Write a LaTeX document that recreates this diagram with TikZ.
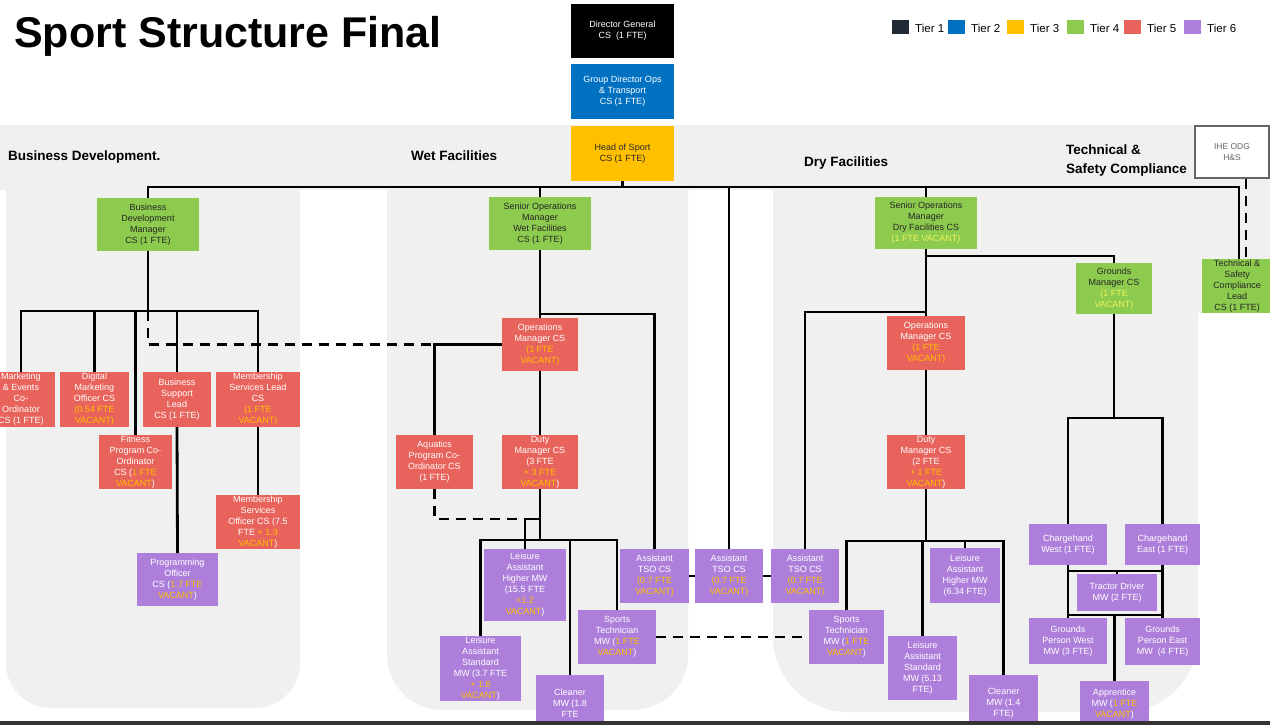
\documentclass[tikz,border=0pt]{standalone}
\usepackage{fontspec}
\setmainfont{Liberation Sans}
\definecolor{tier1}{HTML}{222A35}
\definecolor{tblue}{HTML}{0070C0}
\definecolor{tyellow}{HTML}{FFC000}
\definecolor{tgreen}{HTML}{8DCB4E}
\definecolor{tred}{HTML}{E8635B}
\definecolor{tpurple}{HTML}{AD7FDB}
\definecolor{vacant}{HTML}{FFC000}
\definecolor{paleyel}{HTML}{EEF25A}
\definecolor{panelgray}{HTML}{F0F0F0}
\newcommand\vac[1]{\textcolor{vacant}{#1}}
\newcommand\pale[1]{\textcolor{paleyel}{#1}}
\newcommand\orgbox[7]{\node[#2, minimum width={(#5)-(#3)}, minimum height={(#6)-(#4)}] (#1) at ({((#3)+(#5))/2},{((#4)+(#6))/2}) {#7};}
\tikzset{
  orgbase/.style={rectangle, inner sep=0pt, outer sep=0pt, align=center, font=\fontsize{9}{11}\selectfont},
  t1/.style={orgbase, fill=black, text=white},
  t2/.style={orgbase, fill=tblue, text=white},
  t3/.style={orgbase, fill=tyellow, text=black!85},
  t4/.style={orgbase, fill=tgreen, text=black!85},
  t5/.style={orgbase, fill=tred, text=white},
  t6/.style={orgbase, fill=tpurple, text=white},
  conn/.style={line width=2.8pt, black},
  dconn/.style={conn, dash pattern=on 10pt off 7pt},
  panel/.style={fill=panelgray},
  heading/.style={anchor=base west, inner sep=0pt, font=\bfseries\fontsize{13.5}{16}\selectfont},
  legtext/.style={anchor=west, inner sep=0pt, font=\fontsize{11.5}{13}\selectfont},
  legsq/.style={rectangle, inner sep=0pt, minimum width=17, minimum height=14},
}
\begin{document}
\begin{tikzpicture}[x=1pt,y=-1pt]
\useasboundingbox (0,0) rectangle (1270,725);
% background panels
\fill[panel] (0,125) rectangle (1270,190);
\fill[panel, rounded corners=45] (6,180) -- (6,708) -- (300,708) -- (300,180);
\fill[panel, rounded corners=55] (387,180) -- (387,710) -- (688,710) -- (688,180);
\fill[panel, rounded corners=75] (773,180) -- (773,712) -- (1198,712) -- (1198,180);
\fill[panel] (1195,125) rectangle (1270,313);

% title and headings
\node[anchor=base west, inner sep=0pt, font=\bfseries\fontsize{43}{50}\selectfont] (title) at (14,48) {Sport Structure Final};
\node[heading] (hbd) at (8,160) {Business Development.};
\node[heading] (hwet) at (411,160) {Wet Facilities};
\node[heading] (hdry) at (804,166) {Dry Facilities};
\node[heading] (htec1) at (1066,154) {Technical \&};
\node[heading] (htec2) at (1066,173) {Safety Compliance};

% legend
\foreach \i/\c/\x in {1/tier1/892, 2/tblue/948, 3/tyellow/1007, 4/tgreen/1067, 5/tred/1124, 6/tpurple/1184}{
  \node[legsq, fill=\c] (lsq\i) at (\x+8.5,27.5) {};
  \node[legtext] (ltx\i) at (\x+23,28) {Tier \i};
}

% top chain
\orgbox{dg}{t1}{571}{4}{674}{58}{Director General\\CS~ (1 FTE)}
\orgbox{gd}{t2}{571}{64}{674}{119}{Group Director Ops\\\& Transport\\CS (1 FTE)}
\orgbox{hos}{t3}{571}{126}{674}{181}{Head of Sport\\CS (1 FTE)}
\node[rectangle, draw=black!60, line width=1.2pt, fill=white, inner sep=0pt, minimum width=74, minimum height=52, align=center, text=black!60, font=\fontsize{8.5}{11}\selectfont] (ihe) at (1232,152) {IHE ODG\\H\&S};

% business development
\orgbox{bdm}{t4}{97}{198}{199}{251}{Business\\Development\\Manager\\CS (1 FTE)}
\orgbox{mkt}{t5}{-13}{372}{55}{427}{Marketing\\\& Events\\Co-\\Ordinator\\CS (1 FTE)}
\orgbox{dmo}{t5}{60}{372}{129}{427}{Digital\\Marketing\\Officer CS\\\vac{(0.54 FTE}\\\vac{VACANT)}}
\orgbox{fit}{t5}{99}{435}{172}{489}{Fitness\\Program Co-\\Ordinator\\CS (\vac{1 FTE}\\\vac{VACANT})}
\orgbox{bsl}{t5}{143}{372}{211}{427}{Business\\Support\\Lead\\CS (1 FTE)}
\orgbox{msl}{t5}{216}{372}{300}{427}{Membership\\Services Lead\\CS\\\vac{(1 FTE}\\\vac{VACANT)}}
\orgbox{po}{t6}{137}{553}{218}{606}{Programming\\Officer\\CS (\vac{1.7 FTE}\\\vac{VACANT})}
\orgbox{mso}{t5}{216}{495}{300}{549}{Membership\\Services\\Officer CS (7.5\\FTE \vac{+ 1.3}\\\vac{VACANT})}

% wet facilities
\orgbox{somW}{t4}{489}{197}{591}{250}{Senior Operations\\Manager\\Wet Facilities\\CS (1 FTE)}
\orgbox{opsW}{t5}{502}{318}{578}{371}{Operations\\Manager CS\\\vac{(1 FTE}\\\vac{VACANT)}}
\orgbox{aqW}{t5}{396}{435}{473}{489}{Aquatics\\Program Co-\\Ordinator CS\\(1 FTE)}
\orgbox{dutyW}{t5}{502}{435}{578}{489}{Duty\\Manager CS\\(3 FTE\\\vac{+ 3 FTE}\\\vac{VACANT})}
\orgbox{lahW}{t6}{484}{549}{566}{621}{Leisure\\Assistant\\Higher MW\\(15.5 FTE\\\vac{+1.2}\\\vac{VACANT})}
\orgbox{lasW}{t6}{440}{636}{521}{701}{Leisure\\Assistant\\Standard\\MW (3.7 FTE\\\vac{+ 1.6}\\\vac{VACANT})}
\orgbox{clW}{t6}{536}{675}{604}{731}{Cleaner\\MW (1.8\\FTE}
\orgbox{stW}{t6}{578}{610}{656}{664}{Sports\\Technician\\MW (\vac{1 FTE}\\\vac{VACANT})}
\orgbox{tsoW}{t6}{620}{549}{689}{603}{Assistant\\TSO CS\\\vac{(0.7 FTE}\\\vac{VACANT)}}
\orgbox{tsoM}{t6}{695}{549}{763}{603}{Assistant\\TSO CS\\\vac{(0.7 FTE}\\\vac{VACANT)}}
\orgbox{tsoD}{t6}{771}{549}{839}{603}{Assistant\\TSO CS\\\vac{(0.7 FTE}\\\vac{VACANT)}}

% dry facilities
\orgbox{somD}{t4}{875}{197}{977}{249}{Senior Operations\\Manager\\Dry Facilities CS\\\pale{(1 FTE VACANT)}}
\orgbox{opsD}{t5}{887}{316}{965}{370}{Operations\\Manager CS\\\vac{(1 FTE}\\\vac{VACANT)}}
\orgbox{dutyD}{t5}{887}{435}{965}{489}{Duty\\Manager CS\\(2 FTE\\\vac{+ 1 FTE}\\\vac{VACANT})}
\orgbox{stD}{t6}{809}{610}{884}{664}{Sports\\Technician\\MW (\vac{1 FTE}\\\vac{VACANT})}
\orgbox{lasD}{t6}{888}{636}{957}{700}{Leisure\\Assistant\\Standard\\MW (5.13\\FTE)}
\orgbox{lahD}{t6}{930}{548}{1000}{603}{Leisure\\Assistant\\Higher MW\\(6.34 FTE)}
\orgbox{clD}{t6}{969}{675}{1038}{731}{Cleaner\\MW (1.4\\FTE)}

% grounds
\orgbox{gm}{t4}{1076}{263}{1152}{314}{Grounds\\Manager CS\\\pale{(1 FTE}\\\pale{VACANT)}}
\orgbox{chW}{t6}{1029}{524}{1107}{565}{Chargehand\\West (1 FTE)}
\orgbox{chE}{t6}{1125}{524}{1200}{565}{Chargehand\\East (1 FTE)}
\orgbox{td}{t6}{1077}{574}{1157}{611}{Tractor Driver\\MW (2 FTE)}
\orgbox{gpW}{t6}{1029}{618}{1107}{664}{Grounds\\Person West\\MW (3 FTE)}
\orgbox{gpE}{t6}{1125}{618}{1200}{665}{Grounds\\Person East\\MW~ (4 FTE)}
\orgbox{ap}{t6}{1080}{681}{1149}{728}{Apprentice\\MW (\vac{1 FTE}\\\vac{VACANT})}

% technical & safety
\orgbox{tsl}{t4}{1202}{259}{1272}{313}{Technical \&\\Safety\\Compliance\\Lead\\CS (1 FTE)}

% ---- connectors ----
\coordinate (bus) at (0,187);
\coordinate (busR) at (1239,187);
\draw[conn] (hos.south) -- (hos.south |- bus);
\draw[conn] (bdm.north) |- (busR) -- (busR |- tsl.north);
\draw[conn] (somW.north) -- (somW.north |- bus);
\draw[conn] (tsoM.north) -- (tsoM.north |- bus);
\draw[conn] (somD.north) -- (somD.north |- bus);
\coordinate (dx) at (1246,0);
\draw[dconn] (ihe.south -| dx) -- (tsl.north -| dx);

% business development
\coordinate (bdb) at (0,311);
\draw[conn] (bdm.south) -- (bdm.south |- bdb);
\draw[conn] (mkt.north) |- (msl.north |- bdb) -- (msl.north);
\foreach \n in {dmo,fit,bsl} \draw[conn] (\n.north) -- (\n.north |- bdb);
\draw[conn] (bsl.south) -- (po.north);
\draw[conn] (msl.south) -- (mso.north);
\draw[dconn] (bdm.south |- bdb) -- (bdm.south |- opsW.west) -- (aqW.north |- opsW.west);

% wet
\coordinate (wb1) at (0,314);
\coordinate (wj) at (0,519);
\coordinate (wb2) at (0,540);
\draw[conn] (somW.south) -- (opsW.north);
\draw[conn] (somW.south |- wb1) -| (tsoW.north);
\draw[conn] (opsW.west) -| (aqW.north);
\draw[conn] (opsW.south) -- (dutyW.north);
\draw[dconn] (aqW.south) |- (lahW.north |- wj);
\draw[conn] (lahW.north) -- (lahW.north |- wj) -- (dutyW.south |- wj);
\draw[conn] (dutyW.south) -- (dutyW.south |- wb2);
\draw[conn] (lasW.north) |- (stW.north |- wb2) -- (stW.north);
\draw[conn] (clW.north) -- (clW.north |- wb2);
\draw[conn] (tsoW.east) -- (tsoM.west);
\draw[conn] (tsoM.east) -- (tsoD.west);
\draw[dconn] (stW.east) -- (stD.west);

% dry
\coordinate (db0) at (0,256);
\coordinate (db1) at (0,312);
\coordinate (db2) at (0,541);
\draw[conn] (somD.south) -- (opsD.north);
\draw[conn] (somD.south |- db0) -| (gm.north);
\draw[conn] (somD.south |- db1) -| (tsoD.north);
\draw[conn] (opsD.south) -- (dutyD.north);
\draw[conn] (dutyD.south) -- (dutyD.south |- db2);
\draw[conn] (stD.north) |- (clD.north |- db2) -- (clD.north);
\draw[conn] (lasD.north) -- (lasD.north |- db2);
\draw[conn] (lahD.north) -- (lahD.north |- db2);

% grounds
\coordinate (gb) at (0,418);
\coordinate (tb1) at (0,571);
\coordinate (tb2) at (0,615);
\draw[conn] (gm.south) -- (gm.south |- gb);
\draw[conn] (chW.north) |- (chE.north |- gb) -- (chE.north);
\draw[conn] (chW.south) -- (gpW.north);
\draw[conn] (chE.south) -- (gpE.north);
\draw[conn] (chW.south |- tb1) -- (chE.south |- tb1);
\draw[conn] (td.north |- tb1) -- (td.north);
\draw[conn] (chW.south |- tb2) -- (chE.south |- tb2);
\draw[conn] (ap.north |- tb2) -- (ap.north);

% bottom strip
\fill[black!80] (0,721) rectangle (1270,730);
\end{tikzpicture}
\end{document}
